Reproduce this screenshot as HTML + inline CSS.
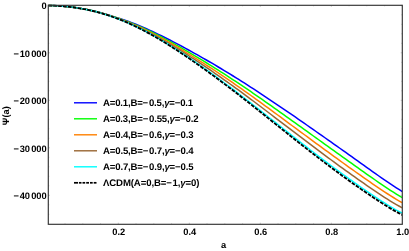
<!DOCTYPE html>
<html><head><meta charset="utf-8"><style>
html,body{margin:0;padding:0;background:#fff;}
svg{display:block}
text{text-rendering:geometricPrecision;font-family:"Liberation Sans",sans-serif;font-weight:bold;font-size:9.3px;fill:#000}
.lg{font-size:9.6px}
</style></head><body>
<svg style="will-change:transform" width="409" height="251" viewBox="0 0 409 251">
<rect width="409" height="251" fill="#fff"/>
<clipPath id="c"><rect x="48.3" y="4.3" width="354.0" height="220.0"/></clipPath>
<g clip-path="url(#c)">
<path d="M48.30,5.39 L51.27,5.47 L54.25,5.60 L57.22,5.76 L60.20,5.95 L63.17,6.19 L66.15,6.46 L69.12,6.78 L72.10,7.13 L75.07,7.52 L78.05,7.96 L81.02,8.43 L84.00,8.95 L86.97,9.51 L89.95,10.12 L92.92,10.78 L95.90,11.49 L98.87,12.25 L101.85,13.06 L104.82,13.92 L107.80,14.82 L110.77,15.74 L113.75,16.67 L116.72,17.61 L119.69,18.56 L122.67,19.53 L125.64,20.54 L128.62,21.58 L131.59,22.67 L134.57,23.81 L137.54,24.99 L140.52,26.22 L143.49,27.49 L146.47,28.79 L149.44,30.13 L152.42,31.50 L155.39,32.90 L158.37,34.33 L161.34,35.78 L164.32,37.25 L167.29,38.75 L170.27,40.27 L173.24,41.80 L176.22,43.36 L179.19,44.93 L182.17,46.52 L185.14,48.13 L188.12,49.75 L191.09,51.39 L194.06,53.04 L197.04,54.70 L200.01,56.38 L202.99,58.07 L205.96,59.77 L208.94,61.49 L211.91,63.22 L214.89,64.97 L217.86,66.73 L220.84,68.50 L223.81,70.29 L226.79,72.09 L229.76,73.91 L232.74,75.74 L235.71,77.59 L238.69,79.45 L241.66,81.33 L244.64,83.22 L247.61,85.12 L250.59,87.03 L253.56,88.96 L256.54,90.90 L259.51,92.85 L262.48,94.82 L265.46,96.79 L268.43,98.77 L271.41,100.77 L274.38,102.77 L277.36,104.78 L280.33,106.80 L283.31,108.82 L286.28,110.86 L289.26,112.90 L292.23,114.94 L295.21,116.99 L298.18,119.05 L301.16,121.11 L304.13,123.18 L307.11,125.25 L310.08,127.32 L313.06,129.40 L316.03,131.49 L319.01,133.57 L321.98,135.66 L324.96,137.75 L327.93,139.85 L330.91,141.95 L333.88,144.05 L336.85,146.15 L339.83,148.26 L342.80,150.37 L345.78,152.48 L348.75,154.60 L351.73,156.72 L354.70,158.85 L357.68,160.98 L360.65,163.10 L363.63,165.23 L366.60,167.35 L369.58,169.47 L372.55,171.58 L375.53,173.68 L378.50,175.76 L381.48,177.83 L384.45,179.87 L387.43,181.89 L390.40,183.89 L393.38,185.87 L396.35,187.81 L399.33,189.74 L402.30,191.63" fill="none" stroke="#0000ff" stroke-width="1.5"/>
<path d="M48.30,5.41 L51.27,5.49 L54.25,5.61 L57.22,5.77 L60.20,5.97 L63.17,6.20 L66.15,6.47 L69.12,6.79 L72.10,7.14 L75.07,7.54 L78.05,7.98 L81.02,8.46 L84.00,8.98 L86.97,9.55 L89.95,10.17 L92.92,10.83 L95.90,11.55 L98.87,12.32 L101.85,13.15 L104.82,14.01 L107.80,14.92 L110.77,15.86 L113.75,16.82 L116.72,17.80 L119.69,18.80 L122.67,19.84 L125.64,20.90 L128.62,22.01 L131.59,23.17 L134.57,24.37 L137.54,25.62 L140.52,26.92 L143.49,28.25 L146.47,29.63 L149.44,31.04 L152.42,32.49 L155.39,33.96 L158.37,35.47 L161.34,37.00 L164.32,38.56 L167.29,40.15 L170.27,41.76 L173.24,43.39 L176.22,45.04 L179.19,46.71 L182.17,48.40 L185.14,50.11 L188.12,51.84 L191.09,53.58 L194.06,55.33 L197.04,57.11 L200.01,58.89 L202.99,60.70 L205.96,62.51 L208.94,64.34 L211.91,66.19 L214.89,68.05 L217.86,69.92 L220.84,71.81 L223.81,73.72 L226.79,75.64 L229.76,77.57 L232.74,79.52 L235.71,81.48 L238.69,83.46 L241.66,85.45 L244.64,87.45 L247.61,89.46 L250.59,91.49 L253.56,93.53 L256.54,95.58 L259.51,97.64 L262.48,99.71 L265.46,101.79 L268.43,103.87 L271.41,105.97 L274.38,108.07 L277.36,110.18 L280.33,112.29 L283.31,114.41 L286.28,116.53 L289.26,118.65 L292.23,120.78 L295.21,122.92 L298.18,125.05 L301.16,127.19 L304.13,129.32 L307.11,131.46 L310.08,133.60 L313.06,135.74 L316.03,137.88 L319.01,140.01 L321.98,142.15 L324.96,144.29 L327.93,146.42 L330.91,148.56 L333.88,150.69 L336.85,152.82 L339.83,154.95 L342.80,157.07 L345.78,159.20 L348.75,161.33 L351.73,163.45 L354.70,165.57 L357.68,167.69 L360.65,169.81 L363.63,171.91 L366.60,174.02 L369.58,176.11 L372.55,178.18 L375.53,180.25 L378.50,182.30 L381.48,184.33 L384.45,186.33 L387.43,188.31 L390.40,190.26 L393.38,192.17 L396.35,194.05 L399.33,195.87 L402.30,197.66" fill="none" stroke="#00ff00" stroke-width="1.5"/>
<path d="M48.30,5.42 L51.27,5.51 L54.25,5.63 L57.22,5.78 L60.20,5.98 L63.17,6.21 L66.15,6.48 L69.12,6.80 L72.10,7.16 L75.07,7.55 L78.05,8.00 L81.02,8.48 L84.00,9.01 L86.97,9.59 L89.95,10.21 L92.92,10.88 L95.90,11.61 L98.87,12.39 L101.85,13.21 L104.82,14.09 L107.80,15.01 L110.77,15.96 L113.75,16.95 L116.72,17.96 L119.69,19.01 L122.67,20.09 L125.64,21.21 L128.62,22.38 L131.59,23.59 L134.57,24.85 L137.54,26.16 L140.52,27.51 L143.49,28.90 L146.47,30.34 L149.44,31.81 L152.42,33.32 L155.39,34.86 L158.37,36.43 L161.34,38.04 L164.32,39.67 L167.29,41.33 L170.27,43.02 L173.24,44.73 L176.22,46.46 L179.19,48.22 L182.17,49.99 L185.14,51.78 L188.12,53.60 L191.09,55.43 L194.06,57.28 L197.04,59.14 L200.01,61.02 L202.99,62.92 L205.96,64.83 L208.94,66.75 L211.91,68.70 L214.89,70.65 L217.86,72.63 L220.84,74.61 L223.81,76.62 L226.79,78.63 L229.76,80.67 L232.74,82.71 L235.71,84.77 L238.69,86.85 L241.66,88.93 L244.64,91.03 L247.61,93.14 L250.59,95.26 L253.56,97.40 L256.54,99.54 L259.51,101.69 L262.48,103.85 L265.46,106.02 L268.43,108.19 L271.41,110.37 L274.38,112.55 L277.36,114.74 L280.33,116.94 L283.31,119.13 L286.28,121.33 L289.26,123.53 L292.23,125.73 L295.21,127.93 L298.18,130.13 L301.16,132.32 L304.13,134.52 L307.11,136.72 L310.08,138.91 L313.06,141.10 L316.03,143.28 L319.01,145.47 L321.98,147.64 L324.96,149.82 L327.93,151.98 L330.91,154.15 L333.88,156.31 L336.85,158.46 L339.83,160.61 L342.80,162.75 L345.78,164.89 L348.75,167.02 L351.73,169.14 L354.70,171.26 L357.68,173.37 L360.65,175.48 L363.63,177.57 L366.60,179.65 L369.58,181.72 L372.55,183.77 L375.53,185.81 L378.50,187.83 L381.48,189.83 L384.45,191.80 L387.43,193.75 L390.40,195.65 L393.38,197.51 L396.35,199.32 L399.33,201.07 L402.30,202.77" fill="none" stroke="#ff8000" stroke-width="1.5"/>
<path d="M48.30,5.44 L51.27,5.52 L54.25,5.64 L57.22,5.79 L60.20,5.99 L63.17,6.22 L66.15,6.49 L69.12,6.81 L72.10,7.17 L75.07,7.57 L78.05,8.01 L81.02,8.50 L84.00,9.04 L86.97,9.62 L89.95,10.25 L92.92,10.93 L95.90,11.67 L98.87,12.45 L101.85,13.28 L104.82,14.16 L107.80,15.09 L110.77,16.06 L113.75,17.08 L116.72,18.13 L119.69,19.21 L122.67,20.34 L125.64,21.52 L128.62,22.74 L131.59,24.01 L134.57,25.33 L137.54,26.69 L140.52,28.10 L143.49,29.55 L146.47,31.05 L149.44,32.58 L152.42,34.15 L155.39,35.76 L158.37,37.40 L161.34,39.07 L164.32,40.78 L167.29,42.52 L170.27,44.28 L173.24,46.07 L176.22,47.88 L179.19,49.72 L182.17,51.58 L185.14,53.46 L188.12,55.36 L191.09,57.28 L194.06,59.22 L197.04,61.17 L200.01,63.15 L202.99,65.14 L205.96,67.14 L208.94,69.17 L211.91,71.20 L214.89,73.26 L217.86,75.33 L220.84,77.41 L223.81,79.52 L226.79,81.63 L229.76,83.76 L232.74,85.90 L235.71,88.06 L238.69,90.23 L241.66,92.42 L244.64,94.61 L247.61,96.82 L250.59,99.04 L253.56,101.26 L256.54,103.50 L259.51,105.74 L262.48,107.99 L265.46,110.25 L268.43,112.51 L271.41,114.77 L274.38,117.04 L277.36,119.31 L280.33,121.58 L283.31,123.86 L286.28,126.13 L289.26,128.40 L292.23,130.67 L295.21,132.94 L298.18,135.20 L301.16,137.46 L304.13,139.72 L307.11,141.97 L310.08,144.22 L313.06,146.46 L316.03,148.69 L319.01,150.92 L321.98,153.14 L324.96,155.35 L327.93,157.55 L330.91,159.74 L333.88,161.92 L336.85,164.10 L339.83,166.27 L342.80,168.42 L345.78,170.57 L348.75,172.71 L351.73,174.83 L354.70,176.95 L357.68,179.06 L360.65,181.15 L363.63,183.23 L366.60,185.29 L369.58,187.34 L372.55,189.36 L375.53,191.37 L378.50,193.36 L381.48,195.33 L384.45,197.27 L387.43,199.18 L390.40,201.04 L393.38,202.85 L396.35,204.59 L399.33,206.26 L402.30,207.87" fill="none" stroke="#996633" stroke-width="1.5"/>
<path d="M48.30,5.45 L51.27,5.53 L54.25,5.65 L57.22,5.81 L60.20,6.00 L63.17,6.23 L66.15,6.50 L69.12,6.82 L72.10,7.18 L75.07,7.58 L78.05,8.03 L81.02,8.53 L84.00,9.07 L86.97,9.66 L89.95,10.30 L92.92,10.99 L95.90,11.72 L98.87,12.51 L101.85,13.35 L104.82,14.24 L107.80,15.18 L110.77,16.17 L113.75,17.21 L116.72,18.29 L119.69,19.43 L122.67,20.61 L125.64,21.84 L128.62,23.12 L131.59,24.44 L134.57,25.82 L137.54,27.24 L140.52,28.71 L143.49,30.22 L146.47,31.78 L149.44,33.38 L152.42,35.01 L155.39,36.69 L158.37,38.40 L161.34,40.15 L164.32,41.93 L167.29,43.74 L170.27,45.59 L173.24,47.46 L176.22,49.35 L179.19,51.28 L182.17,53.23 L185.14,55.20 L188.12,57.19 L191.09,59.20 L194.06,61.23 L197.04,63.28 L200.01,65.35 L202.99,67.44 L205.96,69.54 L208.94,71.67 L211.91,73.80 L214.89,75.96 L217.86,78.13 L220.84,80.32 L223.81,82.52 L226.79,84.74 L229.76,86.97 L232.74,89.21 L235.71,91.47 L238.69,93.75 L241.66,96.03 L244.64,98.33 L247.61,100.63 L250.59,102.95 L253.56,105.27 L256.54,107.60 L259.51,109.94 L262.48,112.28 L265.46,114.63 L268.43,116.98 L271.41,119.33 L274.38,121.69 L277.36,124.04 L280.33,126.40 L283.31,128.75 L286.28,131.10 L289.26,133.45 L292.23,135.79 L295.21,138.13 L298.18,140.46 L301.16,142.79 L304.13,145.11 L307.11,147.42 L310.08,149.72 L313.06,152.01 L316.03,154.30 L319.01,156.57 L321.98,158.83 L324.96,161.08 L327.93,163.31 L330.91,165.54 L333.88,167.75 L336.85,169.95 L339.83,172.13 L342.80,174.30 L345.78,176.46 L348.75,178.60 L351.73,180.73 L354.70,182.85 L357.68,184.95 L360.65,187.03 L363.63,189.09 L366.60,191.13 L369.58,193.15 L372.55,195.15 L375.53,197.13 L378.50,199.09 L381.48,201.03 L384.45,202.94 L387.43,204.81 L390.40,206.63 L393.38,208.38 L396.35,210.06 L399.33,211.65 L402.30,213.16" fill="none" stroke="#00ffff" stroke-width="1.5"/>
<path d="M48.30,5.45 L51.27,5.54 L54.25,5.66 L57.22,5.81 L60.20,6.00 L63.17,6.24 L66.15,6.51 L69.12,6.82 L72.10,7.18 L75.07,7.59 L78.05,8.04 L81.02,8.53 L84.00,9.08 L86.97,9.67 L89.95,10.31 L92.92,11.00 L95.90,11.74 L98.87,12.53 L101.85,13.38 L104.82,14.27 L107.80,15.21 L110.77,16.21 L113.75,17.25 L116.72,18.35 L119.69,19.49 L122.67,20.69 L125.64,21.94 L128.62,23.24 L131.59,24.58 L134.57,25.98 L137.54,27.42 L140.52,28.90 L143.49,30.43 L146.47,32.01 L149.44,33.63 L152.42,35.29 L155.39,36.98 L158.37,38.72 L161.34,40.49 L164.32,42.29 L167.29,44.13 L170.27,46.00 L173.24,47.90 L176.22,49.82 L179.19,51.77 L182.17,53.74 L185.14,55.74 L188.12,57.76 L191.09,59.80 L194.06,61.87 L197.04,63.95 L200.01,66.05 L202.99,68.17 L205.96,70.30 L208.94,72.45 L211.91,74.62 L214.89,76.81 L217.86,79.01 L220.84,81.23 L223.81,83.47 L226.79,85.72 L229.76,87.98 L232.74,90.26 L235.71,92.55 L238.69,94.85 L241.66,97.17 L244.64,99.50 L247.61,101.83 L250.59,104.18 L253.56,106.53 L256.54,108.90 L259.51,111.26 L262.48,113.64 L265.46,116.01 L268.43,118.39 L271.41,120.77 L274.38,123.16 L277.36,125.54 L280.33,127.92 L283.31,130.30 L286.28,132.67 L289.26,135.04 L292.23,137.41 L295.21,139.77 L298.18,142.13 L301.16,144.47 L304.13,146.81 L307.11,149.14 L310.08,151.46 L313.06,153.77 L316.03,156.07 L319.01,158.35 L321.98,160.63 L324.96,162.89 L327.93,165.13 L330.91,167.37 L333.88,169.59 L336.85,171.79 L339.83,173.98 L342.80,176.16 L345.78,178.32 L348.75,180.47 L351.73,182.60 L354.70,184.71 L357.68,186.81 L360.65,188.88 L363.63,190.94 L366.60,192.98 L369.58,194.99 L372.55,196.98 L375.53,198.95 L378.50,200.90 L381.48,202.83 L384.45,204.73 L387.43,206.59 L390.40,208.39 L393.38,210.13 L396.35,211.78 L399.33,213.35 L402.30,214.83" fill="none" stroke="#000" stroke-width="1.8" stroke-dasharray="3.7 1.2"/>
</g>
<g stroke="#aaa" stroke-width="0.6"><line x1="65.05" y1="224.3" x2="65.05" y2="223.3"/><line x1="65.05" y1="5.3" x2="65.05" y2="6.3"/><line x1="82.80" y1="224.3" x2="82.80" y2="223.3"/><line x1="82.80" y1="5.3" x2="82.80" y2="6.3"/><line x1="100.55" y1="224.3" x2="100.55" y2="223.3"/><line x1="100.55" y1="5.3" x2="100.55" y2="6.3"/><line x1="118.30" y1="224.3" x2="118.30" y2="222.70000000000002"/><line x1="118.30" y1="5.3" x2="118.30" y2="6.9"/><line x1="136.05" y1="224.3" x2="136.05" y2="223.3"/><line x1="136.05" y1="5.3" x2="136.05" y2="6.3"/><line x1="153.80" y1="224.3" x2="153.80" y2="223.3"/><line x1="153.80" y1="5.3" x2="153.80" y2="6.3"/><line x1="171.55" y1="224.3" x2="171.55" y2="223.3"/><line x1="171.55" y1="5.3" x2="171.55" y2="6.3"/><line x1="189.30" y1="224.3" x2="189.30" y2="222.70000000000002"/><line x1="189.30" y1="5.3" x2="189.30" y2="6.9"/><line x1="207.05" y1="224.3" x2="207.05" y2="223.3"/><line x1="207.05" y1="5.3" x2="207.05" y2="6.3"/><line x1="224.80" y1="224.3" x2="224.80" y2="223.3"/><line x1="224.80" y1="5.3" x2="224.80" y2="6.3"/><line x1="242.55" y1="224.3" x2="242.55" y2="223.3"/><line x1="242.55" y1="5.3" x2="242.55" y2="6.3"/><line x1="260.30" y1="224.3" x2="260.30" y2="222.70000000000002"/><line x1="260.30" y1="5.3" x2="260.30" y2="6.9"/><line x1="278.05" y1="224.3" x2="278.05" y2="223.3"/><line x1="278.05" y1="5.3" x2="278.05" y2="6.3"/><line x1="295.80" y1="224.3" x2="295.80" y2="223.3"/><line x1="295.80" y1="5.3" x2="295.80" y2="6.3"/><line x1="313.55" y1="224.3" x2="313.55" y2="223.3"/><line x1="313.55" y1="5.3" x2="313.55" y2="6.3"/><line x1="331.30" y1="224.3" x2="331.30" y2="222.70000000000002"/><line x1="331.30" y1="5.3" x2="331.30" y2="6.9"/><line x1="349.05" y1="224.3" x2="349.05" y2="223.3"/><line x1="349.05" y1="5.3" x2="349.05" y2="6.3"/><line x1="366.80" y1="224.3" x2="366.80" y2="223.3"/><line x1="366.80" y1="5.3" x2="366.80" y2="6.3"/><line x1="384.55" y1="224.3" x2="384.55" y2="223.3"/><line x1="384.55" y1="5.3" x2="384.55" y2="6.3"/><line x1="402.30" y1="224.3" x2="402.30" y2="222.70000000000002"/><line x1="402.30" y1="5.3" x2="402.30" y2="6.9"/><line x1="48.3" y1="5.30" x2="49.9" y2="5.30"/><line x1="402.3" y1="5.30" x2="400.7" y2="5.30"/><line x1="48.3" y1="14.80" x2="49.3" y2="14.80"/><line x1="402.3" y1="14.80" x2="401.3" y2="14.80"/><line x1="48.3" y1="24.30" x2="49.3" y2="24.30"/><line x1="402.3" y1="24.30" x2="401.3" y2="24.30"/><line x1="48.3" y1="33.80" x2="49.3" y2="33.80"/><line x1="402.3" y1="33.80" x2="401.3" y2="33.80"/><line x1="48.3" y1="43.30" x2="49.3" y2="43.30"/><line x1="402.3" y1="43.30" x2="401.3" y2="43.30"/><line x1="48.3" y1="52.80" x2="49.9" y2="52.80"/><line x1="402.3" y1="52.80" x2="400.7" y2="52.80"/><line x1="48.3" y1="62.30" x2="49.3" y2="62.30"/><line x1="402.3" y1="62.30" x2="401.3" y2="62.30"/><line x1="48.3" y1="71.80" x2="49.3" y2="71.80"/><line x1="402.3" y1="71.80" x2="401.3" y2="71.80"/><line x1="48.3" y1="81.30" x2="49.3" y2="81.30"/><line x1="402.3" y1="81.30" x2="401.3" y2="81.30"/><line x1="48.3" y1="90.80" x2="49.3" y2="90.80"/><line x1="402.3" y1="90.80" x2="401.3" y2="90.80"/><line x1="48.3" y1="100.30" x2="49.9" y2="100.30"/><line x1="402.3" y1="100.30" x2="400.7" y2="100.30"/><line x1="48.3" y1="109.80" x2="49.3" y2="109.80"/><line x1="402.3" y1="109.80" x2="401.3" y2="109.80"/><line x1="48.3" y1="119.30" x2="49.3" y2="119.30"/><line x1="402.3" y1="119.30" x2="401.3" y2="119.30"/><line x1="48.3" y1="128.80" x2="49.3" y2="128.80"/><line x1="402.3" y1="128.80" x2="401.3" y2="128.80"/><line x1="48.3" y1="138.30" x2="49.3" y2="138.30"/><line x1="402.3" y1="138.30" x2="401.3" y2="138.30"/><line x1="48.3" y1="147.80" x2="49.9" y2="147.80"/><line x1="402.3" y1="147.80" x2="400.7" y2="147.80"/><line x1="48.3" y1="157.30" x2="49.3" y2="157.30"/><line x1="402.3" y1="157.30" x2="401.3" y2="157.30"/><line x1="48.3" y1="166.80" x2="49.3" y2="166.80"/><line x1="402.3" y1="166.80" x2="401.3" y2="166.80"/><line x1="48.3" y1="176.30" x2="49.3" y2="176.30"/><line x1="402.3" y1="176.30" x2="401.3" y2="176.30"/><line x1="48.3" y1="185.80" x2="49.3" y2="185.80"/><line x1="402.3" y1="185.80" x2="401.3" y2="185.80"/><line x1="48.3" y1="195.30" x2="49.9" y2="195.30"/><line x1="402.3" y1="195.30" x2="400.7" y2="195.30"/><line x1="48.3" y1="204.80" x2="49.3" y2="204.80"/><line x1="402.3" y1="204.80" x2="401.3" y2="204.80"/><line x1="48.3" y1="214.30" x2="49.3" y2="214.30"/><line x1="402.3" y1="214.30" x2="401.3" y2="214.30"/></g>
<rect x="48.3" y="5.3" width="354.0" height="219.0" fill="none" stroke="#333" stroke-width="1.15"/>
<text transform="translate(46.7,9.20) scale(1,1.0)" text-anchor="end">0</text><text transform="translate(46.7,56.70) scale(1,1.0)" text-anchor="end">−<tspan dx="0.8">10</tspan><tspan dx="1.2">000</tspan></text><text transform="translate(46.7,104.20) scale(1,1.0)" text-anchor="end">−<tspan dx="0.8">20</tspan><tspan dx="1.2">000</tspan></text><text transform="translate(46.7,151.70) scale(1,1.0)" text-anchor="end">−<tspan dx="0.8">30</tspan><tspan dx="1.2">000</tspan></text><text transform="translate(46.7,199.20) scale(1,1.0)" text-anchor="end">−<tspan dx="0.8">40</tspan><tspan dx="1.2">000</tspan></text><text transform="translate(118.70,234.9) scale(1,1.0)" text-anchor="middle">0.2</text><text transform="translate(189.70,234.9) scale(1,1.0)" text-anchor="middle">0.4</text><text transform="translate(260.70,234.9) scale(1,1.0)" text-anchor="middle">0.6</text><text transform="translate(331.70,234.9) scale(1,1.0)" text-anchor="middle">0.8</text><text transform="translate(402.70,234.9) scale(1,1.0)" text-anchor="middle">1.0</text><text x="223.6" y="248" text-anchor="middle">a</text><text transform="translate(9.1,115.7) rotate(-90)" text-anchor="middle">Ψ(a)</text>
<line x1="74" y1="102.8" x2="97" y2="102.8" stroke="#0000ff" stroke-width="1.4"/><text transform="translate(103,105.70) scale(1,1.0)" class="lg" textLength="90.2" lengthAdjust="spacing">A=0.1,B=−<tspan dx="0.9">0.5</tspan>,<tspan font-style="italic">γ</tspan>=−0.1</text><line x1="74" y1="118.8" x2="97" y2="118.8" stroke="#00ff00" stroke-width="1.4"/><text transform="translate(103,121.70) scale(1,1.0)" class="lg" textLength="95.5" lengthAdjust="spacing">A=0.3,B=−<tspan dx="0.9">0.55</tspan>,<tspan font-style="italic">γ</tspan>=−0.2</text><line x1="74" y1="134.8" x2="97" y2="134.8" stroke="#ff8000" stroke-width="1.4"/><text transform="translate(103,137.70) scale(1,1.0)" class="lg" textLength="90.5" lengthAdjust="spacing">A=0.4,B=−<tspan dx="0.9">0.6</tspan>,<tspan font-style="italic">γ</tspan>=−0.3</text><line x1="74" y1="150.8" x2="97" y2="150.8" stroke="#996633" stroke-width="1.4"/><text transform="translate(103,153.70) scale(1,1.0)" class="lg" textLength="90.5" lengthAdjust="spacing">A=0.5,B=−<tspan dx="0.9">0.7</tspan>,<tspan font-style="italic">γ</tspan>=−0.4</text><line x1="74" y1="166.8" x2="97" y2="166.8" stroke="#00ffff" stroke-width="1.4"/><text transform="translate(103,169.70) scale(1,1.0)" class="lg" textLength="90.5" lengthAdjust="spacing">A=0.7,B=−<tspan dx="0.9">0.9</tspan>,<tspan font-style="italic">γ</tspan>=−0.5</text><line x1="74.0" y1="182.8" x2="78.0" y2="182.8" stroke="#000" stroke-width="1.7"/><line x1="78.9" y1="182.8" x2="81.5" y2="182.8" stroke="#000" stroke-width="1.7"/><line x1="82.5" y1="182.8" x2="85.2" y2="182.8" stroke="#000" stroke-width="1.7"/><line x1="86.2" y1="182.8" x2="89.0" y2="182.8" stroke="#000" stroke-width="1.7"/><line x1="90.0" y1="182.8" x2="92.7" y2="182.8" stroke="#000" stroke-width="1.7"/><line x1="93.7" y1="182.8" x2="96.5" y2="182.8" stroke="#000" stroke-width="1.7"/><text transform="translate(103,185.70) scale(1,1.0)" class="lg" textLength="96.5" lengthAdjust="spacing">ΛCDM(A=0,B=−<tspan dx="0.9">1</tspan>,<tspan font-style="italic">γ</tspan>=0)</text>
</svg>
</body></html>
